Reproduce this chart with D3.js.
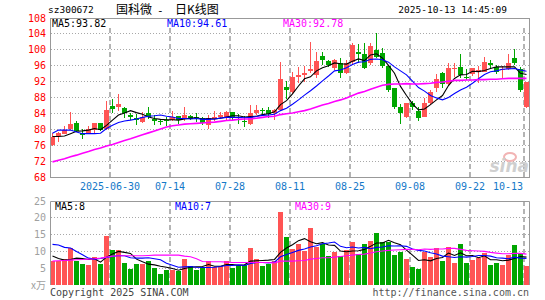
<!DOCTYPE html>
<html>
<head>
<meta charset="utf-8">
<script src="https://cdn.jsdelivr.net/npm/d3@7"></script>
<style>
  body { margin: 0; background: #fff; }
  svg text { font-family: "DejaVu Sans Mono", monospace; font-size: 10px; }
</style>
</head>
<body>
<div id="chart"></div>
<script>
// trading days shown (2025), one candle each
const dates = [
  "06-16","06-17","06-18","06-19","06-20","06-23","06-24","06-25","06-26","06-27",
  "06-30","07-01","07-02","07-03","07-04","07-07","07-08","07-09","07-10","07-11",
  "07-14","07-15","07-16","07-17","07-18","07-21","07-22","07-23","07-24","07-25",
  "07-28","07-29","07-30","07-31","08-01","08-04","08-05","08-06","08-07","08-08",
  "08-11","08-12","08-13","08-14","08-15","08-18","08-19","08-20","08-21","08-22",
  "08-25","08-26","08-27","08-28","08-29","09-01","09-02","09-03","09-04","09-05",
  "09-08","09-09","09-10","09-11","09-12","09-15","09-16","09-17","09-18","09-19",
  "09-22","09-23","09-24","09-25","09-26","09-29","09-30","10-09","10-10","10-13"
];

const opens = [
  76.1, 78.2, 78.9, 80.0, 81.5, 79.1, 79.1, 79.8, 81.5, 80.0,
  85.8, 85.6, 85.4, 83.7, 82.9, 81.8, 84.2, 82.7, 82.2, 82.4,
  82.4, 83.3, 82.5, 83.3, 83.0, 82.8, 81.2, 82.7, 83.1, 83.1,
  84.3, 83.1, 82.2, 81.3, 84.0, 84.9, 84.8, 84.0, 84.9, 90.6,
  89.4, 93.2, 93.7, 94.7, 93.7, 98.4, 97.1, 95.4, 96.6, 94.2,
  96.9, 99.4, 98.9, 96.7, 99.9, 99.3, 96.0, 90.4, 85.6, 83.2,
  86.5, 84.7, 83.2, 86.5, 90.5, 94.2, 91.3, 95.1, 95.7, 93.2,
  93.8, 94.5, 94.5, 96.6, 95.7, 94.8, 95.2, 97.9, 95.2, 85.7
];
const highs = [
  79.0, 79.2, 80.9, 84.4, 82.2, 80.0, 80.9, 81.6, 81.6, 87.2,
  87.6, 88.9, 85.6, 84.2, 83.8, 84.4, 85.6, 83.5, 82.5, 83.1,
  84.7, 83.4, 85.7, 83.6, 84.2, 83.0, 83.7, 84.5, 84.4, 84.5,
  84.4, 83.9, 83.3, 86.1, 86.2, 85.3, 85.7, 85.0, 96.9, 92.2,
  94.5, 95.7, 95.8, 102.0, 99.5, 99.4, 97.4, 97.7, 97.9, 97.4,
  101.8, 101.5, 101.6, 101.6, 104.2, 100.5, 96.2, 90.5, 86.4, 86.7,
  87.0, 85.5, 88.0, 89.9, 93.8, 94.5, 96.6, 96.7, 98.9, 95.2,
  95.5, 96.0, 98.3, 97.4, 96.3, 95.8, 98.9, 100.2, 95.6, 92.0
];
const lows = [
  75.8, 76.9, 78.8, 79.7, 79.3, 77.6, 78.9, 78.8, 79.6, 79.8,
  84.0, 84.5, 82.8, 82.3, 81.0, 81.6, 82.7, 81.2, 81.2, 80.9,
  82.0, 81.4, 82.0, 82.3, 81.9, 81.0, 80.2, 82.1, 82.5, 82.3,
  82.4, 81.4, 80.7, 81.1, 83.7, 83.6, 82.8, 82.3, 84.5, 87.6,
  88.8, 91.6, 92.0, 94.1, 92.9, 96.3, 95.6, 94.8, 92.9, 94.0,
  96.5, 96.7, 95.2, 96.3, 97.9, 95.5, 89.3, 85.1, 81.4, 82.8,
  84.8, 82.1, 83.0, 86.0, 89.5, 90.5, 91.0, 93.2, 92.8, 92.4,
  93.5, 91.6, 94.3, 95.3, 94.0, 92.8, 94.8, 96.2, 89.5, 85.4
];
const closes = [
  78.0, 79.0, 79.7, 81.3, 79.6, 78.6, 80.0, 81.5, 79.8, 84.9,
  85.2, 86.4, 84.0, 83.0, 82.4, 83.0, 83.0, 82.1, 82.0, 82.1,
  83.0, 82.3, 83.7, 82.7, 82.8, 81.5, 82.8, 83.2, 83.6, 84.3,
  83.0, 82.8, 82.0, 84.0, 84.9, 84.6, 83.9, 84.8, 92.7, 89.9,
  93.2, 93.7, 94.2, 95.2, 97.2, 97.4, 96.1, 97.4, 94.2, 96.7,
  101.2, 99.0, 95.5, 100.9, 98.2, 96.0, 90.0, 85.6, 84.1, 86.6,
  85.5, 82.9, 86.5, 89.3, 92.6, 91.3, 95.5, 95.5, 93.7, 92.9,
  95.3, 94.8, 97.0, 96.2, 94.5, 95.2, 96.6, 96.6, 89.9, 91.8
];

// price moving averages
const ma5 = [
  78.2, 78.2, 78.3, 78.9, 79.5, 79.6, 79.8, 80.2, 79.9, 81.0,
  82.3, 83.6, 84.1, 84.7, 84.2, 83.8, 83.1, 82.7, 82.5, 82.4,
  82.4, 82.3, 82.6, 82.8, 82.9, 82.6, 82.7, 82.6, 82.8, 83.1,
  83.4, 83.4, 83.1, 83.2, 83.3, 83.7, 83.9, 84.4, 86.2, 87.2,
  88.9, 90.9, 92.7, 93.2, 94.7, 95.5, 96.0, 96.7, 96.5, 96.4,
  97.1, 97.7, 97.3, 98.7, 99.0, 97.9, 96.1, 94.1, 90.8, 88.5,
  86.4, 84.9, 85.1, 86.2, 87.4, 88.5, 91.0, 92.8, 93.7, 93.8,
  94.6, 94.5, 94.8, 95.3, 95.7, 95.7, 95.7, 95.7, 94.1, 93.8
];
const ma10 = [
  79.0, 79.8, 79.8, 79.8, 79.3, 78.9, 78.9, 78.9, 79.0, 80.2,
  81.0, 81.7, 82.1, 82.3, 82.6, 83.0, 83.3, 83.4, 83.6, 83.3,
  83.1, 82.7, 82.7, 82.6, 82.7, 82.5, 82.5, 82.6, 82.8, 83.0,
  83.0, 83.0, 82.9, 83.0, 83.2, 83.5, 83.6, 83.8, 84.7, 85.3,
  86.3, 87.4, 88.6, 89.7, 90.9, 92.2, 93.4, 94.7, 94.9, 95.5,
  96.3, 96.9, 97.0, 97.6, 97.7, 97.5, 96.9, 95.7, 94.7, 93.7,
  92.1, 90.5, 89.6, 88.5, 87.9, 87.4, 88.0, 89.0, 89.9, 90.6,
  91.6, 92.7, 93.8, 94.5, 94.7, 95.1, 95.2, 95.3, 94.9, 94.6
];
const ma30 = [
  71.8, 72.2, 72.6, 73.1, 73.5, 74.0, 74.4, 74.9, 75.3, 75.8,
  76.2, 76.7, 77.2, 77.6, 78.1, 78.6, 79.1, 79.6, 80.1, 80.6,
  80.9, 81.1, 81.3, 81.4, 81.5, 81.6, 81.7, 81.8, 82.0, 82.2,
  82.3, 82.5, 82.6, 82.6, 82.8, 83.0, 83.2, 83.3, 83.7, 83.9,
  84.1, 84.4, 84.7, 85.1, 85.6, 86.1, 86.5, 87.0, 87.4, 87.9,
  88.5, 89.1, 89.5, 90.1, 90.6, 91.1, 91.3, 91.4, 91.4, 91.5,
  91.4, 91.4, 91.5, 91.6, 91.8, 91.9, 92.1, 92.3, 92.3, 92.4,
  92.4, 92.5, 92.5, 92.6, 92.6, 92.7, 92.8, 92.8, 92.8, 92.8
];

// volume (x万)
const volumes = [
  7.1, 7.1, 7.7, 11.1, 7.1, 6.3, 6.0, 8.4, 6.3, 14.7,
  10.4, 10.4, 6.6, 4.9, 6.3, 6.3, 7.1, 5.2, 3.3, 4.4,
  4.6, 4.3, 7.7, 5.7, 4.6, 5.4, 7.1, 5.4, 5.7, 7.1,
  5.2, 6.0, 6.0, 11.1, 7.7, 5.7, 6.3, 7.1, 21.8, 14.3,
  10.6, 12.1, 10.2, 17.1, 11.3, 12.2, 8.6, 9.9, 8.6, 10.4,
  12.8, 9.1, 12.1, 13.1, 15.5, 12.8, 12.8, 8.9, 9.9, 7.7,
  5.4, 4.8, 9.9, 8.4, 10.9, 7.1, 11.3, 6.5, 12.2, 6.5,
  7.4, 8.1, 9.5, 6.0, 6.5, 6.0, 9.0, 11.9, 9.1, 5.7
];
const volMa5 = [
  8.6, 7.9, 7.4, 7.6, 8.0, 7.9, 7.6, 7.8, 6.8, 8.3,
  9.2, 10.0, 9.7, 9.4, 7.7, 6.9, 6.2, 6.0, 5.6, 5.3,
  4.9, 4.4, 4.9, 5.3, 5.4, 5.5, 6.1, 5.6, 5.6, 6.1,
  6.1, 5.9, 6.0, 7.1, 7.2, 7.3, 7.4, 7.6, 9.7, 11.0,
  12.0, 13.2, 13.8, 12.9, 12.3, 12.6, 11.9, 11.8, 10.1, 9.9,
  10.1, 10.2, 10.6, 11.5, 12.5, 12.5, 13.3, 12.6, 12.0, 10.4,
  8.9, 7.3, 7.5, 7.2, 7.9, 8.2, 9.5, 8.8, 9.6, 8.7,
  8.8, 8.1, 8.7, 7.5, 7.5, 7.2, 7.4, 7.9, 8.5, 8.3
];
const volMa10 = [
  12.1, 11.9, 11.2, 11.0, 10.0, 9.0, 8.0, 7.7, 7.9, 8.2,
  8.5, 8.8, 8.7, 8.1, 8.0, 8.0, 8.1, 7.8, 7.5, 6.5,
  5.9, 5.3, 5.4, 5.5, 5.3, 5.2, 5.2, 5.3, 5.5, 5.8,
  5.8, 6.0, 5.8, 6.4, 6.7, 6.7, 6.6, 6.8, 8.4, 9.1,
  9.7, 10.3, 10.7, 11.3, 11.7, 12.3, 12.5, 12.8, 11.5, 11.1,
  11.3, 11.0, 11.2, 10.8, 11.2, 11.3, 11.7, 11.6, 11.7, 11.5,
  10.7, 10.3, 10.1, 9.6, 9.2, 8.6, 8.4, 8.2, 8.4, 8.3,
  8.5, 8.8, 8.8, 8.6, 8.1, 8.0, 7.8, 8.3, 8.0, 7.9
];
const volMa30 = [
  7.1, 7.2, 7.3, 7.4, 7.5, 7.6, 7.7, 7.8, 8.0, 8.3,
  8.6, 8.7, 8.7, 8.7, 8.7, 8.7, 8.8, 8.9, 8.9, 8.9,
  8.9, 8.9, 8.6, 8.4, 7.8, 7.0, 6.9, 6.9, 6.9, 6.8,
  6.7, 6.7, 6.7, 6.7, 6.7, 6.7, 6.7, 6.6, 7.1, 7.1,
  7.1, 7.2, 7.3, 7.7, 7.9, 8.1, 8.1, 8.3, 8.5, 8.7,
  8.9, 9.1, 9.2, 9.5, 9.9, 10.1, 10.3, 10.4, 10.5, 10.6,
  10.6, 10.5, 10.7, 10.6, 10.7, 10.7, 10.9, 10.9, 10.6, 10.3,
  10.2, 10.1, 10.0, 9.7, 9.5, 9.3, 9.3, 9.4, 9.4, 9.2
];

const priceTicks = [68, 72, 76, 80, 84, 88, 92, 96, 100, 104, 108];
const volTicks = [0, 5, 10, 15, 20, 25];
const volTickLabels = ["x万", "5", "10", "15", "20", "25"];
const xTickDates = ["06-30", "07-14", "07-28", "08-11", "08-25", "09-08", "09-22", "10-13"];
const xTickLabels = ["2025-06-30", "07-14", "07-28", "08-11", "08-25", "09-08", "09-22", "10-13"];
const priceLegend = ["MA5:93.82", "MA10:94.61", "MA30:92.78"];
const volLegend = ["MA5:8", "MA10:7", "MA30:9"];

const RED = "#ff5454", GREEN = "#00a600";
const lineColors = ["#000000", "#0000ff", "#ff00ff"];

const svg = d3.select("#chart").append("svg")
    .attr("width", 545)
    .attr("height", 300);

// x: one 5px candle every 6px
const x = d3.scaleBand()
    .domain(dates)
    .range([50, 530])
    .paddingInner(1 / 6)
    .paddingOuter(1 / 12)
    .align(0);
const bw = x.bandwidth();
const mid = (d) => x(d) + bw / 2;

const y = d3.scaleLinear().domain([68, 108]).range([177, 18]);
const yv = d3.scaleLinear().domain([0, 25]).range([285, 201]);

const up = dates.map((d, i) => closes[i] >= opens[i]);

//header
svg.append("text").attr("x", 48).attr("y", 13).style("font-size", "9.5px").text("sz300672");
const title = svg.append("text")
    .attr("y", 14)
    .style("font-family", "'Noto Sans CJK SC', sans-serif")
    .style("font-size", "12px");
title.append("tspan").attr("x", 116).text("国科微");
title.append("tspan").attr("x", 157).style("font-family", "'DejaVu Sans Mono', monospace").style("font-size", "11px").text("-");
title.append("tspan").attr("x", 175).text("日K线图");
svg.append("text")
    .attr("x", 507).attr("y", 13)
    .attr("text-anchor", "end")
    .style("font-size", "9.5px")
    .text("2025-10-13 14:45:09");

// ---- price panel ----
const price = svg.append("g");

price.append("g")
    .selectAll("line")
    .data(priceTicks.slice(1, -1))
    .join("line")
    .attr("x1", 51).attr("x2", 529)
    .attr("y1", (d) => Math.floor(y(d)) + 0.5)
    .attr("y2", (d) => Math.floor(y(d)) + 0.5)
    .attr("stroke", "#a8a8a8")
    .attr("stroke-dasharray", "1,2");

price.append("g")
    .selectAll("line")
    .data(xTickDates)
    .join("line")
    .attr("x1", (d) => x(d)).attr("x2", (d) => x(d))
    .attr("y1", 28).attr("y2", 177)
    .attr("stroke", "#b4b4b4")
    .attr("stroke-width", 2)
    .attr("stroke-dasharray", "5,3");

price.append("g")
    .selectAll("text")
    .data(priceTicks)
    .join("text")
    .attr("x", 46)
    .attr("y", (d) => y(d) + 3.5)
    .attr("text-anchor", "end")
    .attr("fill", "#ff0000")
    .text((d) => d);

svg.append("g")
    .selectAll("text")
    .data(xTickDates)
    .join("text")
    .attr("x", (d, i) => Math.min(x(d), 523 - xTickLabels[i].length * 3))
    .attr("y", 189.5)
    .attr("text-anchor", "middle")
    .attr("fill", "#1478c8")
    .text((d, i) => xTickLabels[i]);

// sina watermark
const wm = svg.append("g");
wm.append("ellipse")
    .attr("cx", 510).attr("cy", 157).attr("rx", 6).attr("ry", 4)
    .attr("fill", "none").attr("stroke", "#f2b4b4").attr("stroke-width", 2);
wm.append("text")
    .attr("x", 529).attr("y", 172)
    .attr("text-anchor", "end")
    .attr("fill", "#cfcfcf")
    .style("font-family", "'DejaVu Sans', sans-serif")
    .style("font-size", "17px")
    .style("font-weight", "bold")
    .style("font-style", "italic")
    .text("sina");

// candles
const candles = price.append("g").attr("shape-rendering", "crispEdges");
candles.selectAll("line")
    .data(dates)
    .join("line")
    .attr("x1", mid).attr("x2", mid)
    .attr("y1", (d, i) => y(highs[i]))
    .attr("y2", (d, i) => y(lows[i]))
    .attr("stroke", (d, i) => (up[i] ? RED : GREEN));
candles.selectAll("rect")
    .data(dates)
    .join("rect")
    .attr("x", (d) => x(d))
    .attr("width", bw)
    .attr("y", (d, i) => y(Math.max(opens[i], closes[i])))
    .attr("height", (d, i) => Math.max(1, Math.abs(y(opens[i]) - y(closes[i]))))
    .attr("fill", (d, i) => (up[i] ? RED : GREEN));

const priceLine = d3.line().x((d, i) => mid(dates[i])).y((d) => y(d));
[ma5, ma10, ma30].forEach((s, k) => {
    price.append("path")
        .datum(s)
        .attr("d", priceLine)
        .attr("fill", "none")
        .attr("stroke", lineColors[k])
        .attr("stroke-width", k == 2 ? 1.6 : 1.1);
});

price.append("rect")
    .attr("x", 50.5).attr("y", 18.5)
    .attr("width", 479).attr("height", 159)
    .attr("fill", "none")
    .attr("stroke", "#999");

price.append("g")
    .selectAll("text")
    .data(priceLegend)
    .join("text")
    .attr("x", (d, i) => [52, 167, 283][i])
    .attr("y", 27)
    .attr("fill", (d, i) => lineColors[i])
    .text((d) => d);

// ---- volume panel ----
const vol = svg.append("g");

vol.append("g")
    .selectAll("line")
    .data(volTicks.slice(1, -1))
    .join("line")
    .attr("x1", 51).attr("x2", 529)
    .attr("y1", (d) => Math.floor(yv(d)) + 0.5)
    .attr("y2", (d) => Math.floor(yv(d)) + 0.5)
    .attr("stroke", "#a8a8a8")
    .attr("stroke-dasharray", "1,2");

vol.append("g")
    .selectAll("line")
    .data(xTickDates)
    .join("line")
    .attr("x1", (d) => x(d)).attr("x2", (d) => x(d))
    .attr("y1", 201).attr("y2", 285)
    .attr("stroke", "#b4b4b4")
    .attr("stroke-width", 2)
    .attr("stroke-dasharray", "5,3");

vol.append("g")
    .selectAll("text")
    .data(volTicks)
    .join("text")
    .attr("x", 46)
    .attr("y", (d) => (d == 0 ? 289 : yv(d) + 3.5))
    .attr("text-anchor", "end")
    .attr("fill", "#a0a0a0")
    .style("font-family", (d) => (d == 0 ? "'Noto Sans CJK SC', sans-serif" : null))
    .text((d, i) => volTickLabels[i]);

vol.append("g")
    .attr("shape-rendering", "crispEdges")
    .selectAll("rect")
    .data(volumes)
    .join("rect")
    .attr("x", (d, i) => x(dates[i]))
    .attr("width", bw)
    .attr("y", (d) => yv(d))
    .attr("height", (d) => yv(0) - yv(d))
    .attr("fill", (d, i) => (up[i] ? RED : GREEN));

const volLine = d3.line().x((d, i) => mid(dates[i])).y((d) => yv(d));
[volMa5, volMa10, volMa30].forEach((s, k) => {
    vol.append("path")
        .datum(s)
        .attr("d", volLine)
        .attr("fill", "none")
        .attr("stroke", lineColors[k])
        .attr("stroke-width", 1.1);
});

vol.append("path")
    .attr("d", "M50.5,285V201.5H529.5V285")
    .attr("fill", "none")
    .attr("stroke", "#999");

vol.append("g")
    .selectAll("text")
    .data(volLegend)
    .join("text")
    .attr("x", (d, i) => [55, 175, 295][i])
    .attr("y", 210)
    .attr("fill", (d, i) => lineColors[i])
    .text((d) => d);

// footer
svg.append("text").attr("x", 50).attr("y", 296).attr("fill", "#444").text("Copyright 2025 SINA.COM");
svg.append("text")
    .attr("x", 529).attr("y", 296)
    .attr("text-anchor", "end")
    .attr("fill", "#555")
    .text("http://finance.sina.com.cn");
</script>
</body>
</html>
